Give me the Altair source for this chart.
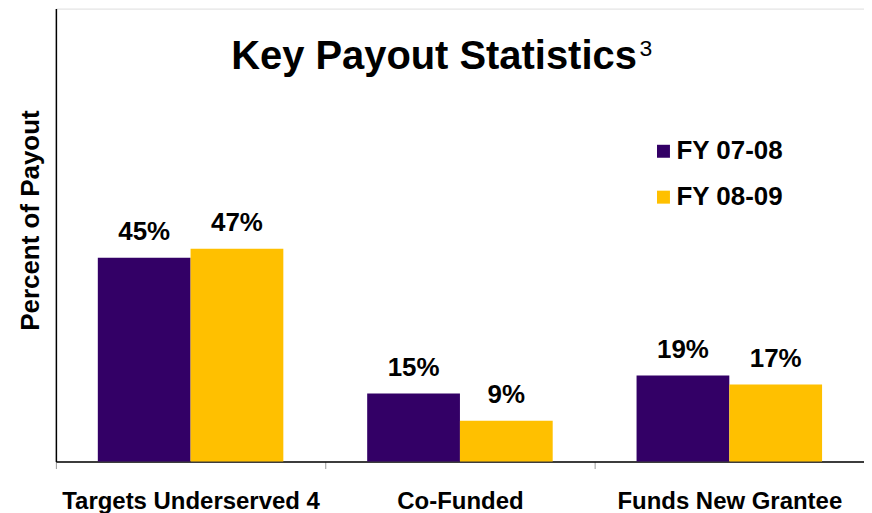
import altair as alt
import pandas as pd

categories = ["Targets Underserved 4", "Co-Funded", "Funds New Grantee"]
series = ["FY 07-08", "FY 08-09"]
fy0708 = [45, 15, 19]
fy0809 = [47, 9, 17]
colors = ["#330066", "#FFC000"]
title_text = "Key Payout Statistics"
title_sup = "3"
y_title = "Percent of Payout"

rows = []
for i, c in enumerate(categories):
    rows.append({"category": c, "series": series[0], "value": fy0708[i], "label": f"{fy0708[i]}%"})
    rows.append({"category": c, "series": series[1], "value": fy0809[i], "label": f"{fy0809[i]}%"})
df = pd.DataFrame(rows)

FONT = "Arial, Liberation Sans, sans-serif"

x_enc = alt.X("category:N", sort=categories,
              scale=alt.Scale(paddingInner=0, paddingOuter=0),
              axis=alt.Axis(title=None, labelAngle=0, labelFontSize=24, labelFontWeight="bold",
                            labelColor="black", labelFont=FONT, labelPadding=21, labelLimit=0,
                            domainColor="black", domainWidth=1.5,
                            tickColor="#999999", tickSize=7, tickBand="extent",
                            grid=False))
xo_enc = alt.XOffset("series:N", sort=series,
                     scale=alt.Scale(paddingOuter=0.452, paddingInner=0))
y_enc = alt.Y("value:Q", scale=alt.Scale(domain=[0, 100], nice=False),
              axis=alt.Axis(title=y_title, labels=False, ticks=False, grid=False,
                            domainColor="black", domainWidth=1.5,
                            titleFontSize=26, titleFont=FONT, titleFontWeight="bold",
                            titleColor="black", titleX=-25, titleY=212,
                            titleAngle=-90, titleBaseline="middle", titleAlign="center"))

base = alt.Chart(df)

bars = base.mark_bar().encode(
    x=x_enc, xOffset=xo_enc, y=y_enc,
    color=alt.Color("series:N", sort=series,
                    scale=alt.Scale(domain=series, range=colors),
                    legend=alt.Legend(title=None, orient="none", legendX=596, legendY=130,
                                      symbolType="square", symbolSize=169,
                                      symbolStrokeWidth=0, labelFontSize=26,
                                      labelFontWeight="bold", labelFont=FONT,
                                      labelColor="black", rowPadding=20, labelOffset=0)),
)

labels = base.mark_text(dy=-18, baseline="alphabetic", fontSize=26, fontWeight="bold",
                        font=FONT, color="black").encode(
    x=alt.X("category:N", sort=categories), xOffset=alt.XOffset("series:N", sort=series),
    y="value:Q", text="label:N")

tdf = pd.DataFrame({"t": [title_text], "s": [title_sup]})
title = alt.Chart(tdf).mark_text(fontSize=40, fontWeight="bold", font=FONT, color="black",
                                 align="center", baseline="alphabetic").encode(
    x=alt.value(379), y=alt.value(61), text="t:N")
sup = alt.Chart(tdf).mark_text(fontSize=23, font=FONT, color="black",
                               align="left", baseline="alphabetic").encode(
    x=alt.value(585), y=alt.value(48), text="s:N")

chart = alt.layer(bars, labels, title, sup).properties(
    width=810, height=454,
    autosize=alt.AutoSizeParams(type="none"),
    padding={"left": 48, "top": 0, "right": 0, "bottom": 60},
).configure_view(stroke=None).configure(background="white")

chart.save("out.html", embed_options={"renderer": "svg", "actions": False})
